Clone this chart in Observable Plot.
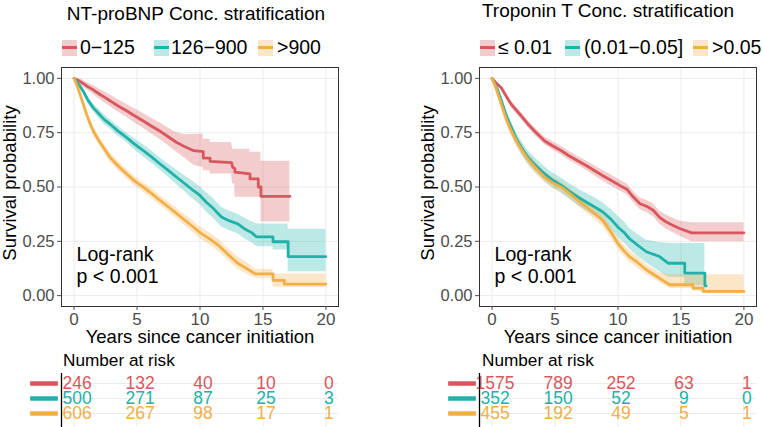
<!DOCTYPE html>
<html><head><meta charset="utf-8">
<script src="https://cdn.jsdelivr.net/npm/d3@7"></script>
<script src="https://cdn.jsdelivr.net/npm/@observablehq/plot@0.6"></script>
<style>
body{margin:0;background:#fff;font-family:"Liberation Sans",Arial,sans-serif;}
#root{position:relative;width:763px;height:427px;overflow:hidden;background:#fff;}
.abs{position:absolute;white-space:nowrap;line-height:1;color:#000;}
.title{font-size:19px;}
.lg{font-size:19.5px;}
.nar{font-size:17.2px;}
.key{position:absolute;width:15px;height:16px;}
.key i{position:absolute;left:0;right:0;top:6.5px;height:3px;}
svg{position:absolute;overflow:visible;}
</style></head><body><div id="root"></div>
<script>
// ---------- Data (path vertices; repeated times mark visible drops) ----------
const colRed = "#D8575C", colTeal = "#20B2A8", colOrange = "#F2AE47";
const riskTimes = [0, 5, 10, 15, 20];

// Left panel: NT-proBNP
const leftTitle = "NT-proBNP Conc. stratification";
const leftGroups = ["0\u2212125", "126\u2212900", ">900"];
const L1_t  = [0, .5, 1, 1.5, 2, 2.5, 2.9, 3.5, 4.2, 4.8, 5.5, 6.1, 6.8, 7.5, 8.15, 8.8, 9.5, 10.26, 10.26, 10.8, 10.8, 12.5, 12.6, 12.77, 12.77, 13.97, 13.97, 14.63, 14.63, 14.84, 14.84, 17.14];
const L1_s  = [1, .985, .965, .948, .928, .91, .895, .873, .85, .828, .804, .782, .758, .73, .705, .685, .667, .663, .633, .633, .618, .612, .59, .585, .568, .56, .537, .537, .5, .5, .457, .457];
const L1_lo = [1, .972, .948, .928, .905, .885, .868, .845, .82, .796, .77, .746, .72, .69, .66, .632, .6, .59, .575, .575, .56, .56, .514, .514, .453, .453, .453, .453, .453, .453, .339, .339];
const L1_hi = [1, .998, .982, .968, .951, .935, .922, .901, .88, .86, .838, .818, .796, .77, .75, .74, .743, .743, .72, .72, .705, .705, .674, .674, .674, .674, .66, .66, .66, .66, .618, .618];

const L2_t  = [0, .4, .74, 1.1, 1.53, 2, 2.4, 2.86, 3.5, 4.18, 4.8, 5.5, 6.2, 6.83, 7.5, 8.15, 8.8, 9.47, 10, 10.5, 11, 11.7, 12.3, 13, 13.6, 14.1, 14.5, 15.8, 15.8, 17, 17, 20];
const L2_s  = [1, .97, .94, .9, .864, .835, .81, .789, .757, .727, .697, .667, .636, .606, .575, .545, .515, .484, .461, .43, .405, .362, .345, .33, .305, .29, .27, .27, .248, .248, .18, .18];
const L2_lo = [1, .96, .925, .884, .847, .813, .788, .767, .735, .705, .672, .639, .608, .578, .545, .512, .478, .444, .421, .385, .36, .317, .3, .285, .26, .245, .225, .225, .21, .21, .11, .11];
const L2_hi = [1, .98, .955, .916, .881, .857, .832, .811, .779, .749, .722, .695, .664, .634, .605, .578, .552, .524, .501, .475, .45, .407, .39, .375, .355, .34, .33, .33, .33, .33, .306, .306];

const L3_t  = [0, .25, .48, .75, 1, 1.25, 1.53, 1.9, 2.33, 2.86, 3.5, 4.18, 4.8, 5.5, 6.2, 6.83, 7.5, 8.15, 8.8, 9.47, 10, 10.9, 11.5, 12, 12.5, 13, 13.7, 14.4, 15.8, 15.8, 16.7, 16.7, 20];
const L3_s  = [1, .965, .925, .878, .834, .795, .758, .72, .682, .636, .597, .56, .528, .499, .468, .438, .408, .378, .347, .316, .29, .256, .23, .202, .175, .149, .125, .1, .1, .07, .07, .053, .053];
const L3_lo = [1, .955, .912, .862, .817, .777, .739, .7, .662, .616, .576, .538, .506, .477, .445, .415, .385, .354, .322, .29, .263, .228, .202, .175, .148, .122, .1, .08, .08, .04, .04, .037, .037];
const L3_hi = [1, .975, .938, .894, .851, .813, .777, .74, .702, .656, .618, .582, .55, .521, .491, .461, .431, .402, .372, .342, .317, .284, .258, .23, .204, .178, .154, .12, .12, .1, .1, .1, .1];

const leftRisk1 = [246, 132, 40, 10, 0];
const leftRisk2 = [500, 271, 87, 25, 3];
const leftRisk3 = [606, 267, 98, 17, 1];

// Right panel: Troponin T
const rightTitle = "Troponin T Conc. stratification";
const rightGroups = ["\u2264 0.01", "(0.01\u22120.05]", ">0.05"];
const R1_t  = [0, .3, .74, 1.1, 1.53, 2.2, 2.86, 3.5, 4.18, 4.8, 5.5, 6.1, 6.8, 7.5, 8.15, 8.8, 9.47, 10.2, 10.7, 11.2, 11.75, 12.3, 12.8, 13.3, 13.8, 14.3, 14.9, 15.85, 20];
const R1_s  = [1, .98, .956, .92, .88, .835, .789, .75, .712, .69, .667, .644, .621, .598, .575, .552, .53, .505, .49, .455, .423, .41, .393, .36, .34, .325, .309, .289, .289];
const R1_lo = [1, .974, .946, .907, .865, .819, .773, .733, .694, .671, .647, .623, .6, .576, .552, .528, .505, .48, .465, .43, .396, .382, .364, .33, .308, .292, .274, .248, .248];
const R1_hi = [1, .986, .966, .932, .895, .851, .805, .767, .73, .709, .687, .665, .642, .62, .598, .576, .555, .53, .515, .48, .45, .438, .422, .39, .372, .358, .344, .336, .336];

const R2_t  = [0, .25, .48, .75, 1, 1.25, 1.53, 1.9, 2.33, 2.86, 3.5, 4.18, 4.8, 5.5, 6.2, 6.83, 7.5, 8.15, 8.8, 9.47, 10, 10.5, 10.9, 11.5, 12.25, 13.3, 14, 15.3, 15.3, 16.9, 16.9, 17];
const R2_s  = [1, .97, .94, .895, .85, .81, .773, .725, .682, .636, .597, .56, .532, .507, .478, .453, .43, .408, .385, .35, .315, .29, .263, .235, .202, .18, .149, .149, .104, .104, .045, .045];
const R2_lo = [1, .955, .92, .872, .825, .783, .745, .697, .652, .605, .565, .528, .498, .472, .442, .415, .39, .366, .342, .305, .268, .242, .215, .185, .15, .11, .085, .085, .045, .045, .045, .045];
const R2_hi = [1, .985, .96, .918, .875, .837, .801, .753, .712, .667, .629, .592, .566, .542, .514, .491, .47, .45, .428, .395, .365, .34, .31, .285, .255, .245, .24, .24, .24, .24, .045, .045];

const R3_t  = [0, .25, .48, .75, 1, 1.25, 1.53, 1.9, 2.33, 2.86, 3.5, 4.18, 4.8, 5.5, 6.2, 6.83, 7.5, 8.15, 8.8, 9.47, 10, 10.5, 10.9, 11.5, 12.25, 13.3, 14.1, 15.95, 15.95, 16.75, 16.75, 20];
const R3_s  = [1, .965, .925, .878, .834, .795, .758, .715, .674, .628, .585, .545, .52, .499, .468, .438, .408, .378, .345, .29, .24, .205, .18, .155, .119, .08, .05, .05, .035, .035, .02, .02];
const R3_lo = [1, .953, .91, .86, .812, .772, .734, .691, .65, .604, .56, .52, .495, .474, .443, .412, .382, .351, .318, .263, .213, .18, .155, .13, .097, .06, .033, .033, .02, .02, .01, .01];
const R3_hi = [1, .977, .94, .896, .856, .818, .782, .739, .698, .652, .61, .57, .545, .524, .493, .464, .434, .405, .372, .317, .267, .232, .207, .182, .145, .105, .096, .096, .096, .096, .096, .096];

const rightRisk1 = [1575, 789, 252, 63, 1];
const rightRisk2 = [352, 150, 52, 9, 0];
const rightRisk3 = [455, 192, 49, 5, 1];

const xTicks = [0, 5, 10, 15, 20];
const yTicks = [0, 0.25, 0.5, 0.75, 1];
const logRankText = "Log-rank\np < 0.001";
const yTitle = "Survival probability";
const xTitle = "Years since cancer initiation";
const riskTitle = "Number at risk";

// ---------- Build ----------
const FONT = '"Liberation Sans", Arial, sans-serif';
const colors = [colRed, colTeal, colOrange];
const zip = (t, s, lo, hi) => t.map((v, i) => ({t: v, s: s[i], lo: lo[i], hi: hi[i]}));

function mainPlot(curves) {
  const marks = [
    Plot.gridX(xTicks, {stroke: "#EBEBEB", strokeOpacity: 1}),
    Plot.gridY(yTicks, {stroke: "#EBEBEB", strokeOpacity: 1})
  ];
  curves.forEach((c, i) => marks.push(Plot.areaY(c, {x: "t", y1: "lo", y2: "hi", fill: colors[i], fillOpacity: 0.3})));
  curves.forEach((c, i) => marks.push(Plot.line(c, {x: "t", y: "s", stroke: colors[i], strokeWidth: 2.8})));
  marks.push(
    Plot.frame({stroke: "#333333"}),
    Plot.axisX(xTicks, {tickSize: 4, tickPadding: 2, fontSize: 17, color: "#4D4D4D", label: null}),
    Plot.axisY(yTicks, {tickSize: 4, tickPadding: 3, fontSize: 16.5, color: "#4D4D4D", label: null, tickFormat: d3.format(".2f")}),
    Plot.text([yTitle], {frameAnchor: "left", rotate: -90, dx: -51, dy: -4, textAnchor: "middle", lineAnchor: "middle", fontSize: 18.5, fill: "#000"}),
    Plot.text([xTitle], {frameAnchor: "bottom", dy: 31, textAnchor: "middle", lineAnchor: "middle", fontSize: 18.5, fill: "#000"}),
    Plot.text([logRankText], {x: 0.2, y: 0.14, textAnchor: "start", fontSize: 19.5, lineHeight: 1.13, fill: "#000"})
  );
  return Plot.plot({
    width: 345, height: 290, marginLeft: 61, marginRight: 7, marginTop: 7, marginBottom: 44,
    x: {domain: [-1, 21]}, y: {domain: [-0.05, 1.05]},
    style: {fontFamily: FONT, background: "transparent", color: "#000"},
    marks
  });
}

function riskPlot(groups, risks) {
  const marks = [
    Plot.gridX(xTicks, {stroke: "#EBEBEB", strokeOpacity: 1}),
    Plot.gridY(groups, {stroke: "#EBEBEB", strokeOpacity: 1})
  ];
  risks.forEach((r, i) => {
    const rows = riskTimes.map((t, j) => ({t, g: groups[i], n: r[j]}));
    marks.push(Plot.text(rows, {x: "t", y: "g", text: d => String(d.n), fill: colors[i], fontSize: 17.5, dx: 3}));
    marks.push(Plot.ruleY([groups[i]], {x1: -3.45, x2: -1.25, stroke: colors[i], strokeWidth: 4.5}));
  });
  marks.push(Plot.ruleX([-1], {stroke: "#000", strokeWidth: 1.3}));
  return Plot.plot({
    width: 345, height: 77, marginLeft: 61, marginRight: 7, marginTop: 23, marginBottom: 0,
    x: {domain: [-1, 21], axis: null},
    y: {type: "point", domain: groups, range: [32, 63], padding: 0, axis: null},
    style: {fontFamily: FONT, background: "transparent"},
    marks
  });
}

const root = document.getElementById("root");
function addDiv(cls, text, left, top) {
  const d = document.createElement("div");
  d.className = "abs " + cls; d.textContent = text;
  d.style.left = left + "px"; d.style.top = top + "px";
  root.appendChild(d); return d;
}
function addKey(left, color) {
  const k = document.createElement("div");
  k.className = "key"; k.style.left = left + "px"; k.style.top = "39.5px";
  k.style.background = d3.color(color).copy({opacity: 0.3}).formatRgb();
  const i = document.createElement("i"); i.style.background = color; k.appendChild(i);
  root.appendChild(k);
}
function place(svg, left, top) {
  svg.style.left = left + "px"; svg.style.top = top + "px"; root.appendChild(svg);
}

// Left panel
const tl = addDiv("title", leftTitle, 0, 4);
tl.style.left = (196 - tl.getBoundingClientRect().width / 2) + "px";
[[62, 80], [154, 171], [258, 277]].forEach(([k, t], i) => { addKey(k, colors[i]); addDiv("lg", leftGroups[i], t, 38.4); });
place(mainPlot([zip(L1_t, L1_s, L1_lo, L1_hi), zip(L2_t, L2_s, L2_lo, L2_hi), zip(L3_t, L3_s, L3_lo, L3_hi)]), 0, 60);
addDiv("nar", riskTitle, 63, 351.7);
place(riskPlot(leftGroups, [leftRisk1, leftRisk2, leftRisk3]), 0, 350);

// Right panel
const tr = addDiv("title", rightTitle, 0, 0.5);
tr.style.left = (608 - tr.getBoundingClientRect().width / 2) + "px";
[[480, 498], [565, 584], [693, 712]].forEach(([k, t], i) => { addKey(k, colors[i]); addDiv("lg", rightGroups[i], t, 38.4); });
place(mainPlot([zip(R1_t, R1_s, R1_lo, R1_hi), zip(R2_t, R2_s, R2_lo, R2_hi), zip(R3_t, R3_s, R3_lo, R3_hi)]), 418, 60);
addDiv("nar", riskTitle, 482, 351.7);
place(riskPlot(rightGroups, [rightRisk1, rightRisk2, rightRisk3]), 418, 350);
</script></body></html>
